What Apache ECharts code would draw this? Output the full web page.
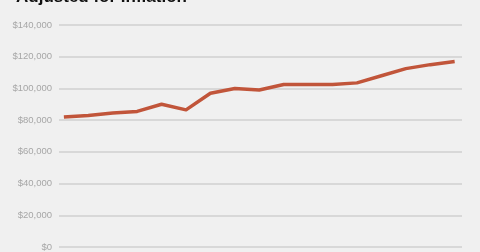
<!DOCTYPE html>
<html>
<head>
<meta charset="utf-8">
<script src="https://cdn.jsdelivr.net/npm/echarts@6/dist/echarts.min.js"></script>
<style>
html,body{margin:0;padding:0;background:#f0f0f0;}
#c{width:480px;height:252px;}
</style>
</head>
<body>
<div id="c"></div>
<script>
var titleText = "Adjusted for Inflation";
var pointIndex = [0,1,2,3,4,5,6,7,8,9,10,11,12,13,14,15,16];
var values = [82000,83000,84500,85500,90000,86500,97000,100000,99000,102500,102500,102500,103500,108000,112500,115000,117000];
var yTicks = [0,20000,40000,60000,80000,100000,120000,140000];

var chart = echarts.init(document.getElementById('c'), null, {renderer:'canvas'});
chart.setOption({
  backgroundColor:'#f0f0f0',
  animation:false,
  graphic:[{
    type:'text', x:16, y:6,
    style:{text:titleText, fill:'#111', font:'bold 17px "Liberation Sans", Arial, sans-serif', verticalAlign:'bottom', align:'left'}
  }],
  grid:{left:59, right:18, top:25, bottom:5},
  xAxis:{
    type:'value', min:-0.2, max:16.3,
    axisLine:{show:false}, axisTick:{show:false}, axisLabel:{show:false}, splitLine:{show:false}
  },
  yAxis:{
    type:'value', min:yTicks[0], max:yTicks[yTicks.length-1], interval:20000,
    axisLine:{show:false}, axisTick:{show:false},
    axisLabel:{
      color:'#a6a6a6', fontSize:9.5, fontFamily:'"Liberation Sans", Arial, sans-serif', margin:7,
      formatter:function(v){ return '$' + v.toLocaleString('en-US'); }
    },
    splitLine:{lineStyle:{color:'#d0d0d0', width:1.5}}
  },
  series:[{
    type:'line',
    data:pointIndex.map(function(i){ return [i, values[i]]; }),
    showSymbol:false, symbol:'none',
    lineStyle:{color:'#c1553a', width:3.5, join:'round'},
    z:5
  }]
});
</script>
</body>
</html>
